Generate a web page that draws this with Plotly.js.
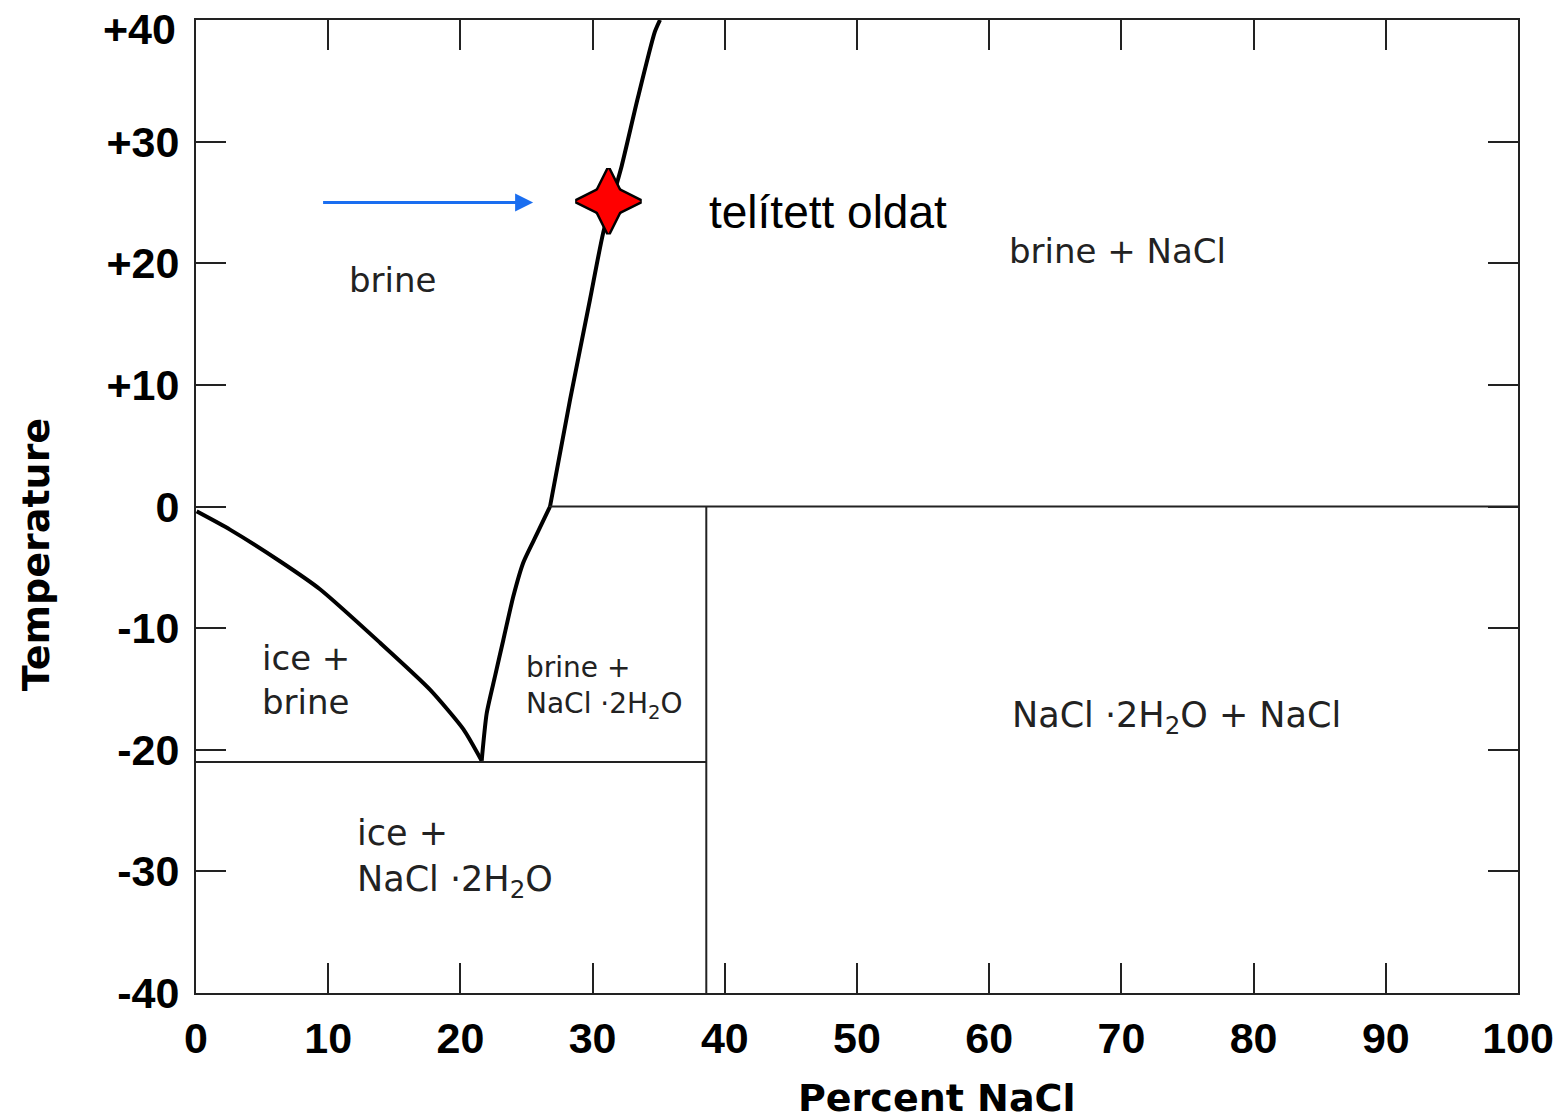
<!DOCTYPE html>
<html>
<head>
<meta charset="utf-8">
<script src="https://cdn.plot.ly/plotly-3.0.1.min.js"></script>
<style>html,body{margin:0;padding:0;background:#fff;}</style>
</head>
<body>
<div id="chart" style="width:1562px;height:1120px;"></div>
<script>
// Liquidus: ice + brine boundary (freezing curve)
const iceX = [0.05, 2.57, 6.35, 9.38, 13.92, 17.70, 20.22, 21.61];
const iceT = [-0.4, -1.9, -4.5, -6.8, -11.2, -15.05, -18.3, -20.9];
// Hydrohalite (NaCl·2H2O) saturation curve
const hhX = [21.61, 21.99, 22.62, 23.25, 24.0, 24.76, 25.77, 26.78];
const hhT = [-20.9, -17.0, -13.95, -10.95, -7.4, -4.6, -2.3, 0.0];
// Halite (NaCl) saturation curve
const haliteX = [26.78, 28.3, 29.8, 30.8, 32.2, 33.4, 34.7, 35.1];
const haliteT = [0.0, 8.8, 17.0, 22.5, 28.0, 33.5, 39.0, 40.0];
// Solidus / peritectic lines
const eutecticX = [0, 38.6];
const eutecticT = [-21, -21];
const peritecticX = [26.78, 100];
const peritecticT = [0, 0];
const hydrohaliteX = [38.6, 38.6];
const hydrohaliteT = [-40, 0];
// Marked point (saturated solution at 25 °C)
const starX = [31.2];
const starT = [25.1];
const starLabel = "telített oldat";
const starLabelX = 47.8, starLabelT = 24.2;
const arrowFromX = 9.5, arrowToX = 25.5, arrowT = 25.0;
// Axis ticks and titles
const xTickVals = [0, 10, 20, 30, 40, 50, 60, 70, 80, 90, 100];
const xTickText = ["0", "10", "20", "30", "40", "50", "60", "70", "80", "90", "100"];
const yTickVals = [40, 30, 20, 10, 0, -10, -20, -30, -40];
const yTickText = ["+40", "+30", "+20", "+10", "0", "-10", "-20", "-30", "-40"];
const xTitle = "Percent NaCl";
const yTitle = "Temperature";
// Region labels
const regionText = ["brine", "brine + NaCl", "ice +<br>brine", "brine +<br>NaCl ·2H<sub>2</sub>O",
  "NaCl ·2H<sub>2</sub>O + NaCl", "ice +<br>NaCl ·2H<sub>2</sub>O"];
const regionX = [14.9, 69.7, 4.84, 24.8, 74.2, 12.0];
const regionT = [18.6, 21.0, -14.3, -14.9, -17.35, -28.9];
const regionSize = [34, 34, 34, 28, 35, 35];
const regionAlign = ["center", "center", "left", "left", "center", "left"];

const tickFont = {family: "Liberation Sans", size: 43, color: "#000", weight: "bold"};
const thick = {color: "#000", width: 4, shape: "spline", smoothing: 0.6};
const thin = {color: "#222", width: 2};
const traces = [
  {x: iceX, y: iceT, mode: "lines", line: thick, hoverinfo: "skip"},
  {x: hhX, y: hhT, mode: "lines", line: thick, hoverinfo: "skip"},
  {x: haliteX, y: haliteT, mode: "lines", line: thick, hoverinfo: "skip"},
  {x: eutecticX, y: eutecticT, mode: "lines", line: thin, hoverinfo: "skip"},
  {x: peritecticX, y: peritecticT, mode: "lines", line: thin, hoverinfo: "skip"},
  {x: hydrohaliteX, y: hydrohaliteT, mode: "lines", line: thin, hoverinfo: "skip"}
];
// four-pointed star: crossed tall/wide diamonds, outline layer then fill layer
["diamond-tall", "diamond-wide"].forEach(sym => traces.push({
  x: starX, y: starT, mode: "markers", hoverinfo: "skip",
  marker: {symbol: sym, size: 46, color: "#ff0000", line: {color: "#000", width: 5}}
}));
["diamond-tall", "diamond-wide"].forEach(sym => traces.push({
  x: starX, y: starT, mode: "markers", hoverinfo: "skip",
  marker: {symbol: sym, size: 46, color: "#ff0000", line: {width: 0}}
}));

const annotations = regionText.map((t, i) => ({
  x: regionX[i], y: regionT[i], xref: "x", yref: "y", text: t, showarrow: false,
  xanchor: regionAlign[i], yanchor: "middle", align: regionAlign[i],
  font: {family: "DejaVu Sans", size: regionSize[i], color: "#222"}
}));
annotations.push({
  x: arrowToX, y: arrowT, ax: arrowFromX, ay: arrowT, axref: "x", ayref: "y",
  xref: "x", yref: "y", text: "", showarrow: true,
  arrowhead: 2, arrowsize: 1.2, arrowwidth: 3, arrowcolor: "#1a6ef0"
});
annotations.push({
  x: starLabelX, y: starLabelT, xref: "x", yref: "y", text: starLabel, showarrow: false,
  xanchor: "center", yanchor: "middle",
  font: {family: "Liberation Sans", size: 46, color: "#000"}
});
// axis titles (placed off-centre as in the reference)
annotations.push({
  x: 56.0, y: -0.108, xref: "x", yref: "paper", text: xTitle, showarrow: false,
  xanchor: "center", yanchor: "middle",
  font: {family: "DejaVu Sans", size: 38, color: "#000", weight: "bold"}
});
annotations.push({
  x: -0.121, y: -4.0, xref: "paper", yref: "y", text: yTitle, showarrow: false,
  textangle: -90, xanchor: "center", yanchor: "middle",
  font: {family: "DejaVu Sans", size: 38, color: "#000", weight: "bold"}
});
// top tick label sits slightly below its tick in the reference so it stays on the page
annotations.push({
  x: -0.0136, y: 39.3, xref: "paper", yref: "y", text: yTickText[0], showarrow: false,
  xanchor: "right", yanchor: "middle", font: tickFont
});
const yAxisText = yTickText.map((t, i) => i === 0 ? "" : t);

const axisCommon = {
  showline: true, linewidth: 2, linecolor: "#222", mirror: "ticks",
  ticks: "inside", ticklen: 30, tickwidth: 2, tickcolor: "#222",
  showgrid: false, zeroline: false, tickmode: "array",
  tickfont: tickFont
};
const layout = {
  width: 1562, height: 1120,
  margin: {l: 196, r: 44, t: 20, b: 127},
  paper_bgcolor: "#fff", plot_bgcolor: "#fff",
  showlegend: false,
  xaxis: Object.assign({}, axisCommon, {
    range: [0, 100], tickvals: xTickVals, ticktext: xTickText, ticklabelstandoff: 6
  }),
  yaxis: Object.assign({}, axisCommon, {
    range: [-40, 40], tickvals: yTickVals, ticktext: yAxisText, ticklabelstandoff: 6
  }),
  annotations: annotations
};
Plotly.newPlot("chart", traces, layout, {displayModeBar: false, staticPlot: true});
</script>
</body>
</html>
